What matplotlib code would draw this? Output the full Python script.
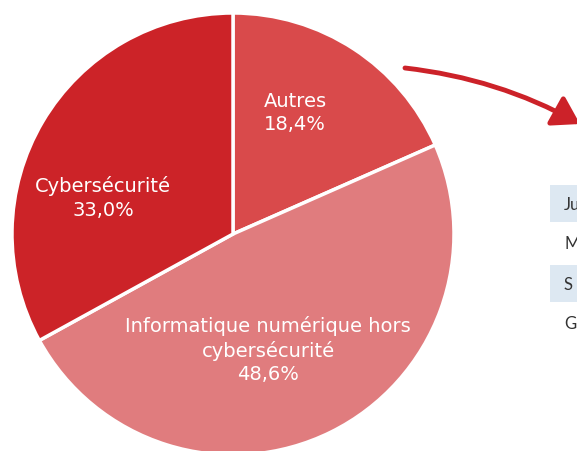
import matplotlib.pyplot as plt
from matplotlib.patches import Rectangle

labels = ["Autres", "Informatique numérique hors\ncybersécurité", "Cybersécurité"]
shares = [18.4, 48.6, 33.0]
colors = ["#d94a4b", "#e07c7e", "#cc2328"]
label_pos = [(295, 113), (268, 350), (103, 198)]

table_rows = ["Ju", "M", "S", "G"]
row_y = [205, 244, 285, 324]

plt.rcParams['font.family'] = ['DejaVu Sans']

fig = plt.figure(figsize=(5.77, 4.52), dpi=100)
ax = fig.add_axes([0, 0, 1, 1])

# pie in pixel coords; y axis is inverted so counterclock=True draws clockwise on screen
ax.pie(shares, colors=colors, startangle=-90, counterclock=True,
       center=(233, 235), radius=221, frame=True,
       wedgeprops=dict(edgecolor="white", linewidth=2.5))
ax.set_xlim(0, 577)
ax.set_ylim(452, 0)
ax.set_aspect('equal')
ax.axis('off')

for (x, y), lab, v in zip(label_pos, labels, shares):
    txt = lab + "\n" + f"{v:.1f}".replace(".", ",") + "%"
    ax.text(x, y, txt, color="white", fontsize=14, ha="center", va="center",
            linespacing=1.3)

# curved arrow pointing to the table
ax.annotate("", xy=(580, 125), xytext=(405, 69), annotation_clip=False,
            arrowprops=dict(arrowstyle="-|>,head_length=0.8,head_width=0.5",
                            mutation_scale=20, color="#cc2229", lw=3.5,
                            shrinkA=0, shrinkB=0,
                            connectionstyle="arc3,rad=-0.1"))

# partial table at the right edge
for i, (name, y) in enumerate(zip(table_rows, row_y)):
    if i % 2 == 0:
        ax.add_patch(Rectangle((550, y - 19), 40, 37, color="#dde8f2", lw=0))
    ax.text(564, y, name, color="#333333", fontsize=12, ha="left", va="center",
            family="Lato")

fig.savefig("out.png", dpi=100)
